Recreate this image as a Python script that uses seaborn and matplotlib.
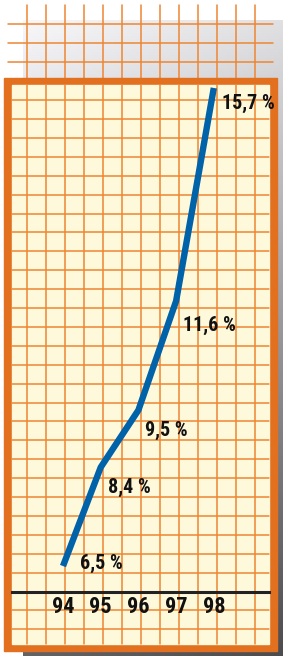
import numpy as np
import pandas as pd
import matplotlib
matplotlib.use('Agg')
import matplotlib.pyplot as plt
from matplotlib import font_manager as fm
from matplotlib.patches import Rectangle
import seaborn as sns

# Datos
years = [94, 95, 96, 97, 98]
year_labels = ['94', '95', '96', '97', '98']
values = [6.5, 8.4, 9.5, 11.6, 15.7]
value_labels = ['6,5 %', '8,4 %', '9,5 %', '11,6 %', '15,7 %']

df = pd.DataFrame({'year': years, 'value': values})

sns.set_style('white')
plt.rcParams['font.family'] = ['Liberation Sans', 'DejaVu Sans']

# buscar una fuente estrecha en negrita
def pick_font():
    prefs = ['LiberationSansNarrow-Bold.', 'RobotoCondensed-Bold.', 'NotoSans-CondensedBold.',
             'OpenSans-CondensedBold.', 'OpenSansCondensed-Bold.', 'DejaVuSansCondensed-Bold.',
             'LiberationSans-Bold.']
    files = [f.fname for f in fm.fontManager.ttflist]
    for p in prefs:
        for fn in files:
            if p.lower() in fn.lower().replace('\\', '/').split('/')[-1]:
                return fn
    return None

font_file = pick_font()
narrow = font_file is not None and 'LiberationSans-Bold' not in font_file
fp = fm.FontProperties(fname=font_file) if font_file else fm.FontProperties(weight='bold')

W, H = 283, 656
fig = plt.figure(figsize=(W / 100, H / 100), dpi=100)
fig.patch.set_facecolor('white')

# ---- fondo decorativo (en pixeles) ----
bg = fig.add_axes([0, 0, 1, 1])
bg.set_xlim(0, W)
bg.set_ylim(H, 0)
bg.axis('off')

orange = '#e2701e'
grid_c = '#ee8633'

# degradado gris / sombra
gx = np.linspace(0, 1, 60)
gy = np.linspace(0, 1, 200)
GX, GY = np.meshgrid(gx, gy)
shade = 0.97 - 0.09 * GX - 0.58 * GY
img = np.clip(np.dstack([shade, shade, shade + 0.01]), 0, 1)
bg.imshow(img, extent=(23, W, H, 20), aspect='auto', zorder=0)

# rejilla superior
for k in range(13):
    x = 26.7 + 19 * k
    bg.plot([x, x], [5, 80], color=grid_c, lw=1.1, zorder=1)
for y in [24.3, 43.3, 62.3]:
    bg.plot([8, 272.5], [y, y], color=grid_c, lw=1.1, zorder=1)

# marco naranja y fondo crema
bg.add_patch(Rectangle((4, 77.5), 273, 573.5, color=orange, zorder=2))
bg.add_patch(Rectangle((11.5, 85), 257.5, 558.5, color='#fff9dc', zorder=3))

# rejilla interior
for k in range(13):
    x = 26.7 + 19 * k
    bg.plot([x, x], [85, 643.5], color=grid_c, lw=1.1, zorder=4)
for k in range(-3, 30):
    y = 591.5 - 18.9 * k
    if 86 < y < 643:
        bg.plot([11.5, 269], [y, y], color=grid_c, lw=1.1, zorder=4)

# ---- grafico de datos ----
ax = fig.add_axes([12 / W, (H - 644) / H, (269 - 12) / W, (644 - 85) / H])
ax.patch.set_alpha(0)
sns.lineplot(data=df, x='year', y='value', ax=ax, color='#0062a8', lw=4.6,
             solid_capstyle='butt', solid_joinstyle='round', clip_on=False)
ax.set_xlim(92.647, 99.464)
ax.set_ylim(5.0, 15.757)

for s in ['top', 'left', 'right']:
    ax.spines[s].set_visible(False)
ax.spines['bottom'].set_position(('data', 6.0))
ax.spines['bottom'].set_linewidth(2.2)
ax.spines['bottom'].set_color('#222222')
ax.set_yticks([])
ax.set_xticks(years)
tsize = 16 if narrow else 12
ax.set_xticklabels(year_labels, color='#111111')
for t in ax.get_xticklabels():
    t.set_fontproperties(fp)
    t.set_fontsize(tsize)
ax.tick_params(axis='x', length=0, pad=2.5)
ax.set_xlabel('')
ax.set_ylabel('')

# etiquetas de valores
lsize = 14.5 if narrow else 11
offsets = [(17, 3), (7, -20), (7, -20), (7, -24), (8, -15)]
for x, y, lab, off in zip(years, values, value_labels, offsets):
    ax.annotate(lab, (x, y), xytext=off, textcoords='offset pixels',
                ha='left', va='center', fontproperties=fp, fontsize=lsize,
                color='#111111', annotation_clip=False)

fig.savefig('out.png', dpi=100)
